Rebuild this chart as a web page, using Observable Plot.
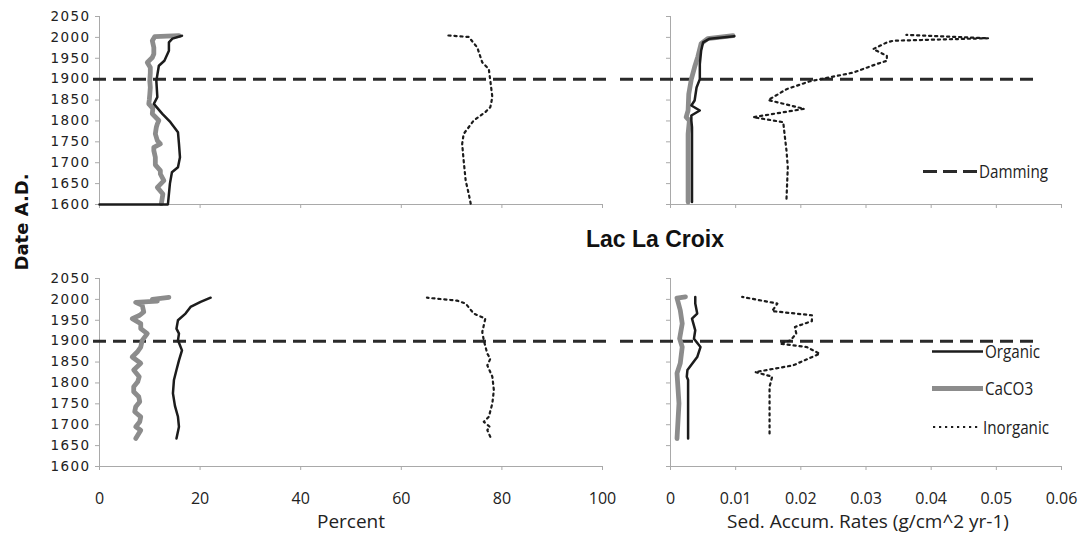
<!DOCTYPE html>
<html>
<head>
<meta charset="utf-8">
<script src="https://cdn.jsdelivr.net/npm/d3@7"></script>
<script src="https://cdn.jsdelivr.net/npm/@observablehq/plot@0.6"></script>
<style>
  body { margin: 0; background: #fff; }
  #fig { position: relative; width: 1088px; height: 544px; overflow: hidden; background: #fff; }
  #fig > svg, #fig > div { position: absolute; }
  #fig g[aria-label="y-axis tick"], #fig g[aria-label="y-axis tick"] path,
  #fig g[aria-label="x-axis tick"], #fig g[aria-label="x-axis tick"] path { stroke: #a9a9a9 !important; }
  #fig g[aria-label="y-axis tick label"] { font-family: "DejaVu Sans", sans-serif !important; font-size: 13.5px !important; fill: #222 !important; letter-spacing: 1.4px; }
  #fig g[aria-label="x-axis tick label"] { font-family: "Open Sans", sans-serif !important; font-size: 16px !important; fill: #222 !important; }
</style>
</head>
<body>
<div id="fig"></div>
<script>
// Axis ticks
const yearTicks = [1600, 1650, 1700, 1750, 1800, 1850, 1900, 1950, 2000, 2050];
const percentTicks = [0, 20, 40, 60, 80, 100];
const rateTicks = [0, 0.01, 0.02, 0.03, 0.04, 0.05, 0.06];
const dammingYear = [1900];
const seriesNames = ["Organic", "CaCO3", "Inorganic"];

// Upper core, percent composition: [year A.D., percent]
const upperPctOrganic = [[1600,0],[1600,13.6],[1650,14.0],[1677,14.4],[1689,15.6],[1713,16.0],[1745,15.8],[1773,15.6],[1797,14.1],[1817,12.5],[1841,10.8],[1857,11.5],[1896,11.3],[1932,11.8],[1944,12.9],[1968,13.8],[1988,13.8],[1997,14.5],[2004,16.4]];
const upperPctCaCO3 = [[1602,12.3],[1625,12.6],[1641,11.5],[1657,12.8],[1673,12.1],[1681,12.1],[1695,11.1],[1713,11.1],[1729,10.8],[1737,10.8],[1745,12.1],[1753,11.5],[1769,11.1],[1785,11.3],[1793,11.5],[1801,11.8],[1817,10.5],[1830,10.6],[1841,9.8],[1850,9.9],[1864,10.0],[1880,10.1],[1896,10.0],[1915,10.1],[1928,10.1],[1940,9.5],[1952,10.5],[1960,10.8],[1976,10.8],[1992,10.5],[2002,11.0],[2004,15.8]];
const upperPctInorganic = [[1602,73.8],[1626,73.4],[1657,72.8],[1705,72.4],[1745,72.1],[1769,72.4],[1801,74.4],[1821,76.7],[1833,77.7],[1857,78.1],[1896,77.7],[1924,77.4],[1940,76.1],[1976,75.1],[2001,73.4],[2005,68.8]];

// Upper core, sediment accumulation rates: [year A.D., g/cm^2/yr]
const upperRateOrganic = [[1606,0.0033],[1785,0.0033],[1801,0.0032],[1813,0.0032],[1825,0.0045],[1837,0.0032],[1849,0.0037],[1880,0.0040],[1900,0.0045],[1936,0.0045],[1968,0.0047],[1988,0.0050],[1997,0.0060],[2003,0.0098]];
const upperRateCaCO3 = [[1606,0.0027],[1769,0.0027],[1801,0.0029],[1809,0.0024],[1825,0.0027],[1864,0.0028],[1900,0.0032],[1929,0.0037],[1954,0.0042],[1985,0.0047],[1997,0.0057],[2004,0.0096]];
const upperRateInorganic = [[1614,0.0178],[1689,0.0180],[1729,0.0178],[1769,0.0175],[1797,0.0173],[1809,0.0127],[1829,0.0205],[1850,0.0150],[1876,0.0178],[1895,0.0214],[1903,0.0240],[1916,0.0281],[1936,0.0316],[1944,0.0332],[1956,0.0332],[1972,0.0311],[1988,0.0332],[1992,0.0342],[1998,0.0488],[2006,0.0362]];

// Lac La Croix, percent composition
const croixPctOrganic = [[1667,15.3],[1695,15.8],[1719,15.6],[1745,15.0],[1775,14.6],[1807,14.8],[1831,15.3],[1854,15.8],[1878,16.4],[1902,15.6],[1918,15.8],[1930,15.3],[1950,15.6],[1966,17.1],[1982,18.1],[1994,20.1],[2004,22.1]];
const croixPctCaCO3 = [[1667,7.2],[1687,8.2],[1695,7.2],[1707,8.0],[1719,8.2],[1731,7.0],[1743,7.2],[1755,8.0],[1767,7.8],[1779,6.8],[1791,6.8],[1803,7.6],[1815,7.9],[1831,6.8],[1847,8.2],[1862,6.5],[1874,7.5],[1886,8.2],[1902,8.5],[1918,9.5],[1930,8.2],[1942,8.2],[1954,6.5],[1962,8.0],[1970,8.8],[1986,8.5],[1993,7.2],[1996,11.5],[2000,10.5],[2005,13.8]];
const croixPctInorganic = [[1671,77.7],[1687,77.1],[1695,77.6],[1707,76.4],[1719,77.4],[1751,78.1],[1783,78.4],[1815,78.1],[1842,77.1],[1858,77.7],[1870,77.1],[1902,76.4],[1922,76.1],[1954,76.7],[1966,74.4],[1990,72.8],[1997,71.1],[2004,65.1]];

// Lac La Croix, sediment accumulation rates
const croixRateOrganic = [[1667,0.0027],[1807,0.0027],[1815,0.0025],[1831,0.0026],[1862,0.0041],[1886,0.0046],[1906,0.0036],[1926,0.0038],[1954,0.0033],[1966,0.0041],[1990,0.0038],[2006,0.0038]];
const croixRateCaCO3 = [[1667,0.0010],[1751,0.0013],[1823,0.0010],[1847,0.0015],[1886,0.0018],[1906,0.0014],[1942,0.0018],[1974,0.0015],[2003,0.0010],[2006,0.0023]];
const croixRateInorganic = [[1679,0.0152],[1735,0.0152],[1791,0.0152],[1815,0.0156],[1826,0.0130],[1842,0.0188],[1870,0.0229],[1886,0.0209],[1894,0.0168],[1902,0.0184],[1918,0.0193],[1934,0.0191],[1948,0.0217],[1962,0.0217],[1972,0.0156],[1990,0.0164],[2006,0.0110]];

const BLACK = "#1c1c1c", GRAY = "#8c8c8c", AXIS = "#a9a9a9";
const fig = document.getElementById("fig");

function panel(cfg) {
  const el = Plot.plot({
    width: cfg.width, height: cfg.height,
    marginLeft: cfg.ml, marginRight: cfg.mr, marginTop: cfg.mt, marginBottom: cfg.mb,
    style: { background: "transparent", overflow: "visible", color: "#222" },
    x: { domain: cfg.xDomain },
    y: { domain: [1600, 2050] },
    marks: [
      Plot.ruleX([0], { stroke: AXIS }),
      Plot.ruleY([1600], { stroke: AXIS }),
      Plot.axisY(yearTicks, { tickSize: 4, tickPadding: 5, label: null,
        tickFormat: cfg.yLabels ? (d) => String(d) : () => "" }),
      Plot.axisX(cfg.xTicks, { tickSize: 4, tickPadding: 22, label: null,
        tickFormat: cfg.xLabels ? cfg.fmt : () => "" }),
      Plot.ruleY(dammingYear, { stroke: "#2a2a2a", strokeWidth: 3, strokeDasharray: "13,7",
        insetLeft: cfg.dashInsetLeft, insetRight: cfg.dashInsetRight }),
      Plot.line(cfg.caco3, { x: (d) => d[1], y: (d) => d[0], stroke: GRAY, strokeWidth: 4.8, strokeLinejoin: "round" }),
      Plot.line(cfg.organic, { x: (d) => d[1], y: (d) => d[0], stroke: BLACK, strokeWidth: 2.5, strokeLinejoin: "round" }),
      Plot.line(cfg.inorganic, { x: (d) => d[1], y: (d) => d[0], stroke: BLACK, strokeWidth: 2.2, strokeDasharray: "2.2,3.8" })
    ]
  });
  el.style.left = cfg.left + "px";
  el.style.top = cfg.top + "px";
  fig.appendChild(el);
}

const pctFmt = (d) => String(d);
const rateFmt = (d) => (d === 0 ? "0" : d.toFixed(2));

panel({ left: 0, top: 0, width: 625, height: 215, ml: 99, mr: 23, mt: 16, mb: 11,
  xDomain: [0, 100], xTicks: percentTicks, fmt: pctFmt, yLabels: true, xLabels: false,
  dashInsetLeft: -6, dashInsetRight: -5,
  organic: upperPctOrganic, caco3: upperPctCaCO3, inorganic: upperPctInorganic });
panel({ left: 600, top: 0, width: 488, height: 215, ml: 70, mr: 27, mt: 16, mb: 11,
  xDomain: [0, 0.06], xTicks: rateTicks, fmt: rateFmt, yLabels: false, xLabels: false,
  dashInsetLeft: -50, dashInsetRight: 24,
  organic: upperRateOrganic, caco3: upperRateCaCO3, inorganic: upperRateInorganic });
panel({ left: 0, top: 262, width: 625, height: 282, ml: 99, mr: 23, mt: 16, mb: 78,
  xDomain: [0, 100], xTicks: percentTicks, fmt: pctFmt, yLabels: true, xLabels: true,
  dashInsetLeft: -6, dashInsetRight: -5,
  organic: croixPctOrganic, caco3: croixPctCaCO3, inorganic: croixPctInorganic });
panel({ left: 600, top: 262, width: 488, height: 282, ml: 70, mr: 27, mt: 16, mb: 78,
  xDomain: [0, 0.06], xTicks: rateTicks, fmt: rateFmt, yLabels: false, xLabels: true,
  dashInsetLeft: -50, dashInsetRight: 24,
  organic: croixRateOrganic, caco3: croixRateCaCO3, inorganic: croixRateInorganic });

// Titles, axis titles and legends
const over = d3.create("svg").attr("width", 1088).attr("height", 544)
  .style("left", "0px").style("top", "0px").style("pointer-events", "none");

over.append("text").attr("x", 586).attr("y", 247)
  .attr("font-family", "'Liberation Sans', Arial, sans-serif").attr("font-weight", "bold")
  .attr("font-size", 23).attr("fill", "#111").text("Lac La Croix");

over.append("text").attr("transform", "translate(28,222) rotate(-90)")
  .attr("text-anchor", "middle")
  .attr("font-family", "'DejaVu Sans', sans-serif").attr("font-weight", "bold")
  .attr("font-size", 18).attr("fill", "#111").text("Date A.D.");

const axisTitle = (x, s) => over.append("text").attr("x", x).attr("y", 528)
  .attr("text-anchor", "middle").attr("font-family", "'Open Sans', sans-serif")
  .attr("font-size", 19).attr("fill", "#222").text(s);
axisTitle(351, "Percent");
axisTitle(868, "Sed. Accum. Rates (g/cm^2 yr-1)");

function legendItem(x1, x2, y, lineStyle, label) {
  const line = over.append("line").attr("x1", x1).attr("x2", x2).attr("y1", y).attr("y2", y);
  for (const [k, v] of Object.entries(lineStyle)) line.attr(k, v);
  over.append("text")
    .attr("transform", `translate(${x2 + 2},${y}) scale(0.8,1)`)
    .attr("dy", "0.36em")
    .attr("font-family", "'Open Sans', sans-serif").attr("font-size", 19).attr("fill", "#222")
    .text(label);
}
legendItem(923, 977, 171.5, { stroke: "#2a2a2a", "stroke-width": 3, "stroke-dasharray": "14,6" }, "Damming");
legendItem(932, 983, 351.5, { stroke: BLACK, "stroke-width": 2.5 }, seriesNames[0]);
legendItem(932, 983, 388.5, { stroke: GRAY, "stroke-width": 4.8 }, seriesNames[1]);
legendItem(933, 981, 427, { stroke: BLACK, "stroke-width": 2.2, "stroke-dasharray": "2.2,3.8" }, seriesNames[2]);

fig.appendChild(over.node());
</script>
</body>
</html>
